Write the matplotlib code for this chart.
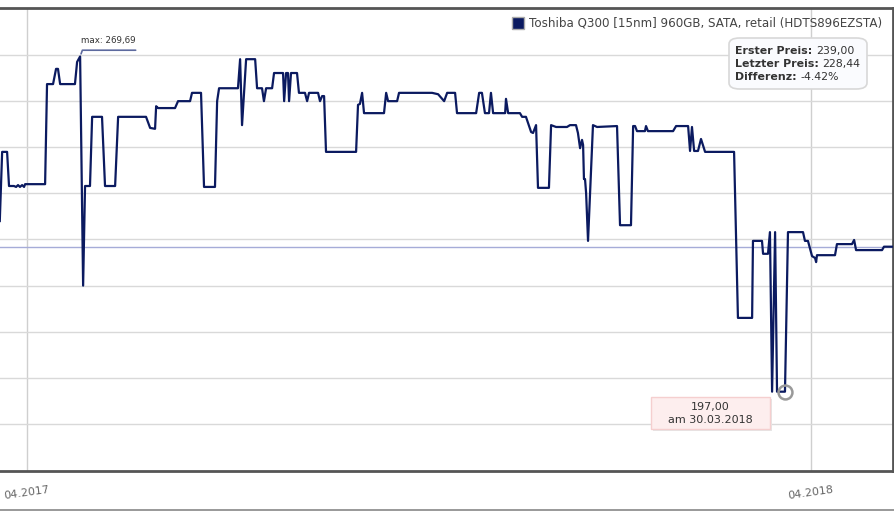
import numpy as np
import pandas as pd
import matplotlib
matplotlib.use('Agg')
import matplotlib.pyplot as plt
from matplotlib.lines import Line2D
from matplotlib.patches import FancyBboxPatch
from matplotlib.text import Annotation

# price history, days counted from 01.04.2017
start = pd.Timestamp('2017-04-01')
days = [-12.7, -11.6, -9.3, -8.4, -6.1, -5.1, -4.2, -3.3, -2.3, -1.4, -0.9,
        8.4, 9.3, 12.1, 13.5, 14.4, 15.4, 22.3, 23.3, 24.7, 26.1, 27.0, 29.3,
        30.3, 34.9, 36.3, 41.0, 42.4, 55.4, 57.3, 59.6, 60.1, 61.0, 68.9, 70.3,
        75.9, 76.8, 81.0, 82.4, 87.5, 88.5, 89.4, 98.2, 99.2, 100.1, 102.0,
        106.2, 107.1, 109.4, 110.3, 111.3, 114.1, 115.0, 119.2, 119.7, 120.6,
        121.5, 122.0, 122.9, 125.7, 126.6, 129.4, 130.4, 131.3, 135.5, 136.4,
        137.4, 138.3, 139.2, 153.2, 154.1, 155.0, 156.0, 156.9, 166.2, 167.2,
        168.1, 172.3, 173.2, 188.6, 191.4, 194.2, 195.6, 199.3, 200.2, 209.1,
        210.5, 211.8, 213.2, 215.1, 216.0, 217.0, 222.6, 223.0, 224.0, 229.5,
        230.5, 232.3, 234.7, 235.6, 237.0, 237.9, 243.0, 244.0, 246.3, 251.4,
        252.8, 255.6, 256.5, 257.5, 258.4, 258.9, 259.3, 259.8, 260.3, 261.2,
        263.5, 265.4, 274.7, 276.1, 281.2, 282.2, 283.1, 284.0, 287.7, 288.2,
        289.1, 300.8, 302.2, 307.8, 308.7, 309.6, 310.6, 312.4, 313.8, 315.7,
        329.2, 331.0, 337.6, 338.0, 342.2, 342.7, 345.0, 345.9, 346.9, 348.3,
        349.2, 352.9, 354.3, 361.3, 362.2, 363.6, 365.5, 366.9, 367.4, 367.8,
        376.2, 377.1, 384.1, 385.1, 386.0, 398.1, 399.0, 404.1]
prices = [234.0, 249.0, 249.0, 241.6, 241.6, 241.4, 241.8, 241.4, 241.8, 241.4, 242.0,
          242.0, 263.7, 263.7, 267.0, 267.0, 263.7, 263.7, 268.5, 269.69, 220.0, 241.6, 241.6,
          256.6, 256.6, 241.6, 241.6, 256.6, 256.6, 254.2, 254.0, 258.9, 258.5, 258.5, 260.0,
          260.0, 261.8, 261.8, 241.4, 241.4, 260.0, 262.8, 262.8, 269.1, 254.8, 269.1,
          269.1, 262.8, 262.8, 260.0, 262.8, 262.8, 266.1, 266.1, 260.0, 266.1,
          266.1, 260.0, 266.1, 266.1, 261.8, 261.8, 260.0, 261.8, 261.8, 260.0,
          261.1, 261.1, 249.0, 249.0, 259.2, 259.4, 261.8, 257.4, 257.4, 261.8,
          260.0, 260.0, 261.8, 261.8, 261.5, 260.0, 261.8, 261.8, 257.4, 257.4,
          261.8, 261.8, 257.4, 257.4, 261.8, 257.4, 257.4, 260.5, 257.4, 257.4,
          256.6, 256.6, 253.3, 253.1, 254.8, 241.2, 241.2, 254.8, 254.4, 254.4,
          254.8, 254.8, 253.1, 249.8, 251.6, 250.5, 243.1, 243.1, 240.1, 229.7,
          254.8, 254.4, 254.6, 233.1, 233.1, 254.6, 254.6, 253.5, 253.5, 254.6,
          253.5, 253.5, 254.6, 254.6, 249.2, 254.4, 249.2, 249.2, 251.8, 249.0,
          249.0, 213.0, 213.0, 229.7, 229.7, 226.9, 226.9, 231.6, 197.0, 231.6,
          197.0, 197.0, 231.6, 231.6, 229.7, 229.7, 226.4, 226.0, 225.1, 226.6,
          226.6, 229.0, 229.0, 229.9, 227.7, 227.7, 228.44, 228.44]
dates = start + pd.to_timedelta(days, unit='D')

label = 'Toshiba Q300 [15nm] 960GB, SATA, retail (HDTS896EZSTA)'
first_price = '239,00'
last_price = 228.44
diff_text = '-4.42%'
max_day, max_price = 24.7, 269.69
min_day, min_price = 352.9, 197.00
min_date_text = '30.03.2018'
tick_dates = ['2017-04-01', '2018-04-01']
tick_labels = ['04.2017', '04.2018']

navy = '#0b1a60'

fig = plt.figure(figsize=(8.95, 5.11), dpi=100)
ax = fig.add_axes([0, 40 / 511, 893 / 895, 463 / 511])

ax.plot(dates, prices, color=navy, lw=1.6, zorder=3)
ax.axhline(last_price, color='#a6acd8', lw=1.0, zorder=2)

ax.set_ylim(179.8, 280.2)
ax.set_xlim(start + pd.Timedelta(days=-12.6), start + pd.Timedelta(days=403.2))
ax.set_yticks(np.arange(190, 271, 10))
ax.set_yticklabels([])
ax.tick_params(axis='y', length=0)
ax.set_xticks(pd.to_datetime(tick_dates))
ax.set_xticklabels(tick_labels, rotation=8, color='#666666', fontsize=8)
ax.tick_params(axis='x', length=0, pad=10)
ax.grid(True, color='#d9d9d9', lw=1.0)
ax.grid(True, axis='x', color='#cfcfcf', lw=1.0)

for side in ['top', 'bottom', 'right']:
    ax.spines[side].set_color('#555555')
    ax.spines[side].set_linewidth(2)
ax.spines['left'].set_visible(False)

# legend
handle = Line2D([], [], marker='s', linestyle='none', markersize=8,
                markerfacecolor=navy, markeredgecolor='#aaaaaa')
ax.legend([handle], [label], loc='upper right', bbox_to_anchor=(888 / 895, 1 - 11 / 511),
          bbox_transform=fig.transFigure, frameon=False, fontsize=8.6,
          handletextpad=0.4, borderpad=0, handlelength=1.0, labelcolor='#444444')

# info box
box = FancyBboxPatch((729 / 895, 1 - 89 / 511), 138 / 895, 51 / 511,
                     boxstyle='round,pad=0,rounding_size=0.012', transform=fig.transFigure,
                     facecolor='#fafbfe', edgecolor='#d8d8d8', lw=1.2, zorder=5)
fig.patches.append(box)
rows = [('Erster Preis:', first_price),
        ('Letzter Preis:', f'{last_price:.2f}'.replace('.', ',')),
        ('Differenz:', diff_text)]
for i, (k, v) in enumerate(rows):
    t = fig.text(735 / 895, 1 - (51 + 13 * i) / 511, k, fontsize=7.9, weight='bold',
                 color='#333333', va='center', ha='left', zorder=6)
    fig.add_artist(Annotation(v, xy=(1, 0.5), xycoords=t, xytext=(2.5, 0),
                              textcoords='offset points', fontsize=7.9, color='#333333',
                              va='center', ha='left', zorder=6))

# max marker
max_date = start + pd.Timedelta(days=max_day)
ax.annotate(f'max: {max_price:.2f}'.replace('.', ','), xy=(max_date, max_price),
            xytext=(1, 8), textcoords='offset points', fontsize=6.3, color='#333333',
            va='bottom', ha='left', zorder=6)
ax.annotate('', xy=(max_date, max_price), xytext=(42, 4.5), textcoords='offset points',
            arrowprops=dict(arrowstyle='-', color='#5d6a9e', lw=1.2,
                            connectionstyle='angle,angleA=0,angleB=70,rad=0'))

# min marker + tooltip
min_date = start + pd.Timedelta(days=min_day)
ax.plot([min_date], [min_price], marker='o', markersize=10, markerfacecolor='none',
        markeredgecolor='#999999', markeredgewidth=1.8, zorder=4)
tip = FancyBboxPatch((651 / 895, 1 - 429 / 511), 119 / 895, 32 / 511,
                     boxstyle='square,pad=0', transform=fig.transFigure,
                     facecolor='#fdeeee', edgecolor='#f5cfcf', lw=1.0, zorder=5)
shadow = FancyBboxPatch((653 / 895, 1 - 431 / 511), 119 / 895, 32 / 511,
                        boxstyle='square,pad=0', transform=fig.transFigure,
                        facecolor='#e6e6e6', edgecolor='none', zorder=4.5)
fig.patches.append(shadow)
fig.patches.append(tip)
fig.text(710 / 895, 1 - 406.5 / 511, f'{min_price:.2f}'.replace('.', ','), fontsize=8,
         color='#333333', ha='center', va='center', zorder=6)
fig.text(710 / 895, 1 - 420 / 511, 'am ' + min_date_text, fontsize=8,
         color='#333333', ha='center', va='center', zorder=6)

# bottom frame line
fig.add_artist(Line2D([0, 1], [0.6 / 511, 0.6 / 511], color='#888888', lw=1.2,
                      transform=fig.transFigure))

fig.savefig('out.png', dpi=100)
